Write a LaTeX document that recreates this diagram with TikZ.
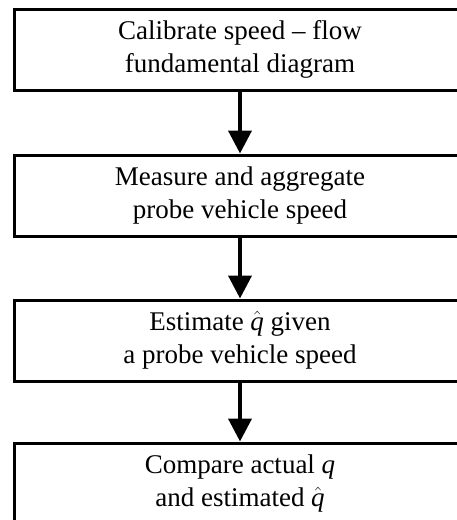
\documentclass[tikz,border=0pt]{standalone}
\usepackage{fontspec}
\setmainfont{Liberation Serif}
\usetikzlibrary{arrows.meta}
\newcommand{\qvar}{\textit{q}}
\newcommand{\qhat}{$\hat{\hbox{\itshape q}}$}
\begin{document}
\begin{tikzpicture}[x=1pt,y=-1pt,
  stepbox/.style={draw=black, line width=3pt, minimum width=452pt, minimum height=81pt,
    align=center, inner sep=0pt, font=\fontsize{27}{33}\selectfont},
  flowarrow/.style={line width=4pt, -{Triangle[width=23pt,length=23pt]}}]
\clip (0,0) rectangle (457,520);
\node[stepbox] (a) at (240,49.75) {Calibrate speed -- flow\\fundamental diagram};
\node[stepbox] (b) at (240,195.5) {Measure and aggregate\\probe vehicle speed};
\node[stepbox] (c) at (240,340.5) {Estimate \qhat{} given\\a probe vehicle speed};
\node[stepbox] (d) at (240,483.5) {Compare actual \qvar\\and estimated \qhat};
\draw[flowarrow] (a.south) -- (b.north);
\draw[flowarrow] (b.south) -- (c.north);
\draw[flowarrow] (c.south) -- (d.north);
\end{tikzpicture}
\end{document}
